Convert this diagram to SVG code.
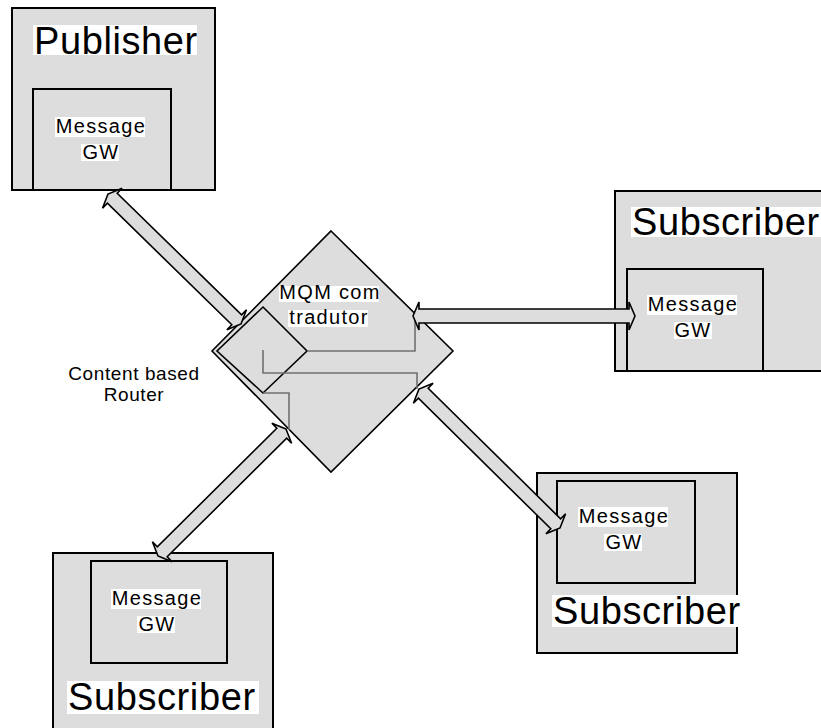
<svg xmlns="http://www.w3.org/2000/svg" width="821" height="728" viewBox="0 0 821 728">
<style>
.box{fill:#dddddd;stroke:#000;stroke-width:2}
.dia{fill:#dddddd;stroke:#000;stroke-width:1.6}
.bg{fill:#fff}
.big{font-family:"Liberation Sans",Arial,sans-serif;font-size:38px;fill:#000;letter-spacing:0.6px}
.sm{font-family:"Liberation Sans",Arial,sans-serif;font-size:20px;fill:#000;letter-spacing:1.3px;text-anchor:middle}
.lab{font-family:"Liberation Sans",Arial,sans-serif;font-size:19px;fill:#000;letter-spacing:0.6px;text-anchor:middle}
.wire{fill:none;stroke:#707070;stroke-width:1.6}
.arr{fill:#dddddd;stroke:#000;stroke-width:1.6;stroke-linejoin:miter}
</style>
<rect width="821" height="728" fill="#fff"/>
<g id="publisher">
<rect class="box" x="12" y="8" width="203" height="182"/>
<rect class="bg" x="33" y="25" width="164" height="30"/>
<text class="big" x="34" y="54">Publisher</text>
<rect class="box" x="33" y="89" width="138" height="101"/>
<rect class="bg" x="55" y="117" width="90" height="20"/>
<rect class="bg" x="81" y="144" width="38" height="17"/>
<text class="sm" x="101" y="133">Message</text>
<text class="sm" x="101" y="159">GW</text>
</g>
<g id="subscriber-right">
<rect class="box" x="615" y="191" width="225" height="180"/>
<rect class="bg" x="631" y="207" width="190" height="30"/>
<text class="big" x="632" y="235">Subscriber</text>
<rect class="box" x="627" y="269" width="136" height="102"/>
<rect class="bg" x="647" y="295" width="90" height="20"/>
<rect class="bg" x="674" y="322" width="38" height="17"/>
<text class="sm" x="693" y="311">Message</text>
<text class="sm" x="693" y="337">GW</text>
</g>
<g id="subscriber-bottom-left">
<rect class="box" x="53" y="553" width="220" height="190"/>
<rect class="box" x="91" y="561" width="136" height="102"/>
<rect class="bg" x="111" y="589" width="90" height="20"/>
<rect class="bg" x="137" y="616" width="38" height="17"/>
<text class="sm" x="157" y="605">Message</text>
<text class="sm" x="157" y="631">GW</text>
<rect class="bg" x="67" y="681" width="192" height="33"/>
<text class="big" x="68" y="710">Subscriber</text>
</g>
<g id="subscriber-bottom-right">
<rect class="box" x="537" y="473" width="200" height="180"/>
<rect class="box" x="557" y="481" width="138" height="102"/>
<rect class="bg" x="578" y="507" width="90" height="20"/>
<rect class="bg" x="604" y="534" width="38" height="17"/>
<text class="sm" x="624" y="523">Message</text>
<text class="sm" x="624" y="549">GW</text>
<rect class="bg" x="552" y="595" width="192" height="32"/>
<text class="big" x="553" y="624">Subscriber</text>
</g>
<g id="router">
<polygon class="dia" points="331,231 453,351 331,472 212,351"/>
<polygon class="dia" points="263,307 307,351 263,393 217,351"/>
<rect class="bg" x="279" y="286" width="100" height="16"/>
<rect class="bg" x="288" y="310" width="80" height="17"/>
<text class="sm" x="330" y="299">MQM com</text>
<text class="sm" x="329" y="324">tradutor</text>
<text class="lab" x="134" y="380">Content based</text>
<text class="lab" x="134" y="401">Router</text>
</g>
<g id="connectors">
<polyline class="wire" points="307,351 415,351 415,317"/>
<polyline class="wire" points="263,350 263,373 417,373 417,389"/>
<polyline class="wire" points="263,393 289,393 289,430"/>
<polygon class="arr" points="108,194 102.5,208.2 107.4,203.2 231.8,324.8 226.9,329.8 241,324 246.5,309.8 241.6,314.8 117.2,193.2 122.1,188.2"/>
<polygon class="arr" points="413,316 419,330 419,323 629,323 629,330 635,316 629,302 629,309 419,309 419,302"/>
<polygon class="arr" points="419,389 413.4,403.2 418.4,398.2 550.8,528.8 545.9,533.8 560,528 565.6,513.8 560.6,518.8 428.2,388.2 433.1,383.2"/>
<polygon class="arr" points="286,429 271.9,423.3 276.8,428.3 157.3,546.8 152.4,541.8 158,556 172.1,561.7 167.2,556.8 286.7,438.2 291.6,443.2"/>
</g>
</svg>
